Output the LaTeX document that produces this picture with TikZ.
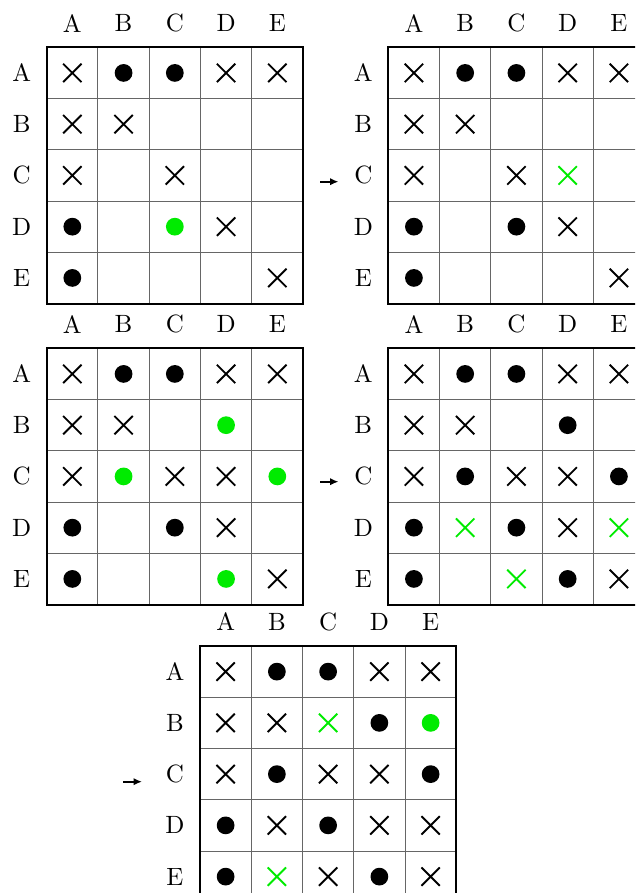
\documentclass[tikz,border=0pt]{standalone}
\usetikzlibrary{shapes.misc,arrows.meta}
\definecolor{mkgreen}{RGB}{0,235,0}
\newcommand\drawboard[4]{%
 \begin{scope}[shift={(#2,#3)}]
  \foreach \i in {1,...,4} {
    \draw[innerline] (\i*51.25,0) -- (\i*51.25,256.25);
    \draw[innerline] (0,\i*51.25) -- (256.25,\i*51.25);
  }
  \draw[outerline] (0,0) rectangle (256.25,256.25);
  \foreach \L [count=\k] in {A,B,C,D,E} {
    \node[lbl] (#1col\k) at ({(\k-0.5)*51.25},-24) {\L};
    \node[lbl] (#1row\k) at (-25,{(\k-0.5)*51.25}) {\L};
  }
  \foreach \R [count=\r] in {#4} {
    \foreach \m [count=\k] in \R {
      \node[\m] (#1c\r\k) at ({(\k-0.5)*51.25},{(\r-0.5)*51.25}) {};
    }
  }
 \end{scope}}
\begin{document}
\begin{tikzpicture}[x=0.4pt,y=-0.4pt,
  lbl/.style={font=\normalsize, inner sep=0pt},
  innerline/.style={draw=black!60, line width=0.4pt},
  outerline/.style={draw=black, line width=0.8pt},
  mbx/.style={cross out, draw=black, line width=0.75pt, minimum size=6.6pt, inner sep=0pt},
  mgx/.style={mbx, draw=mkgreen},
  mbd/.style={circle, fill=black, minimum size=7.1pt, inner sep=0pt},
  mgd/.style={mbd, fill=mkgreen},
  mee/.style={inner sep=0pt, minimum size=0pt},
  steparrow/.style={-{Latex[length=3.4pt,width=3pt]}, line width=0.8pt}]
\useasboundingbox (0,0) rectangle (635,893);
\clip (0,0) rectangle (635,893);
\drawboard{ga}{46.7}{47.3}{
 {mbx,mbd,mbd,mbx,mbx},
 {mbx,mbx,mee,mee,mee},
 {mbx,mee,mbx,mee,mee},
 {mbd,mee,mgd,mbx,mee},
 {mbd,mee,mee,mee,mbx}}
\drawboard{gb}{388.3}{47.3}{
 {mbx,mbd,mbd,mbx,mbx},
 {mbx,mbx,mee,mee,mee},
 {mbx,mee,mbx,mgx,mee},
 {mbd,mee,mbd,mbx,mee},
 {mbd,mee,mee,mee,mbx}}
\drawboard{gc}{46.7}{348.3}{
 {mbx,mbd,mbd,mbx,mbx},
 {mbx,mbx,mee,mgd,mee},
 {mbx,mgd,mbx,mbx,mgd},
 {mbd,mee,mbd,mbx,mee},
 {mbd,mee,mee,mgd,mbx}}
\drawboard{gd}{388.3}{348.3}{
 {mbx,mbd,mbd,mbx,mbx},
 {mbx,mbx,mee,mbd,mee},
 {mbx,mbd,mbx,mbx,mbd},
 {mbd,mgx,mbd,mbx,mgx},
 {mbd,mee,mgx,mbd,mbx}}
\drawboard{ge}{200}{646}{
 {mbx,mbd,mbd,mbx,mbx},
 {mbx,mbx,mgx,mbd,mgd},
 {mbx,mbd,mbx,mbx,mbd},
 {mbd,mbx,mbd,mbx,mbx},
 {mbd,mgx,mbx,mbd,mbx}}
\coordinate (abs) at (320,181.7); \coordinate (abe) at (338.5,181.7);
\coordinate (ads) at (320,481.7); \coordinate (ade) at (338.5,481.7);
\coordinate (aes) at (123,781.7); \coordinate (aee) at (142,781.7);
\draw[steparrow] (abs) -- (abe);
\draw[steparrow] (ads) -- (ade);
\draw[steparrow] (aes) -- (aee);
\end{tikzpicture}
\end{document}
